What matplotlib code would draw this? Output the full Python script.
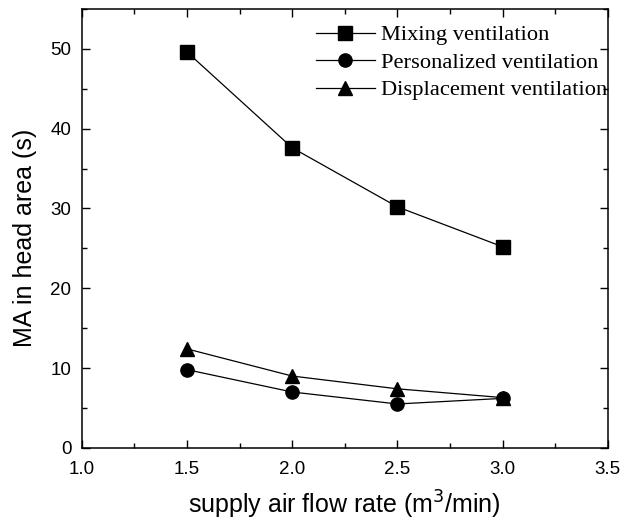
import matplotlib
matplotlib.use("Agg")
import matplotlib.pyplot as plt
from matplotlib.ticker import MultipleLocator

flow = [1.5, 2.0, 2.5, 3.0]
mixing = [49.6, 37.6, 30.2, 25.2]
personalized = [9.8, 7.0, 5.5, 6.2]
displacement = [12.4, 9.0, 7.4, 6.3]

plt.rcParams["font.family"] = ["Liberation Sans", "DejaVu Sans"]

fig = plt.figure(figsize=(6.39, 5.22), dpi=100)
ax = fig.add_axes([0.128, 0.142, 0.823, 0.841])

kw = dict(color="black", lw=0.9, ms=9.5)
ax.plot(flow, mixing, marker="s", label="Mixing ventilation", **kw)
ax.plot(flow, personalized, marker="o", label="Personalized ventilation", **kw)
ax.plot(flow, displacement, marker="^", label="Displacement ventilation", **kw)

ax.set_xlim(1.0, 3.5)
ax.set_ylim(0, 55)
ax.xaxis.set_major_locator(MultipleLocator(0.5))
ax.xaxis.set_minor_locator(MultipleLocator(0.25))
ax.yaxis.set_major_locator(MultipleLocator(10))
ax.yaxis.set_minor_locator(MultipleLocator(5))
ax.tick_params(which="both", direction="in", top=True, right=True, width=1)
ax.tick_params(which="major", length=6, labelsize=13.5)
ax.tick_params(axis="x", which="major", pad=9.5)
ax.tick_params(axis="y", which="major", pad=7.5)
ax.tick_params(which="minor", length=3.5)
for s in ax.spines.values():
    s.set_linewidth(1.1)

ax.set_xlabel("supply air flow rate (m$^3$/min)", fontsize=18, labelpad=8)
ax.set_ylabel("MA in head area (s)", fontsize=18)
ax.yaxis.set_label_coords(-0.085, 0.478)

leg = ax.legend(loc="upper right", bbox_to_anchor=(1.0, 0.964), frameon=False,
                handlelength=2.6, handletextpad=0.3, labelspacing=0.3,
                borderaxespad=0.0, borderpad=0.0,
                prop={"family": ["Liberation Serif"], "size": 16.2})

fig.savefig("out.png", dpi=100)
